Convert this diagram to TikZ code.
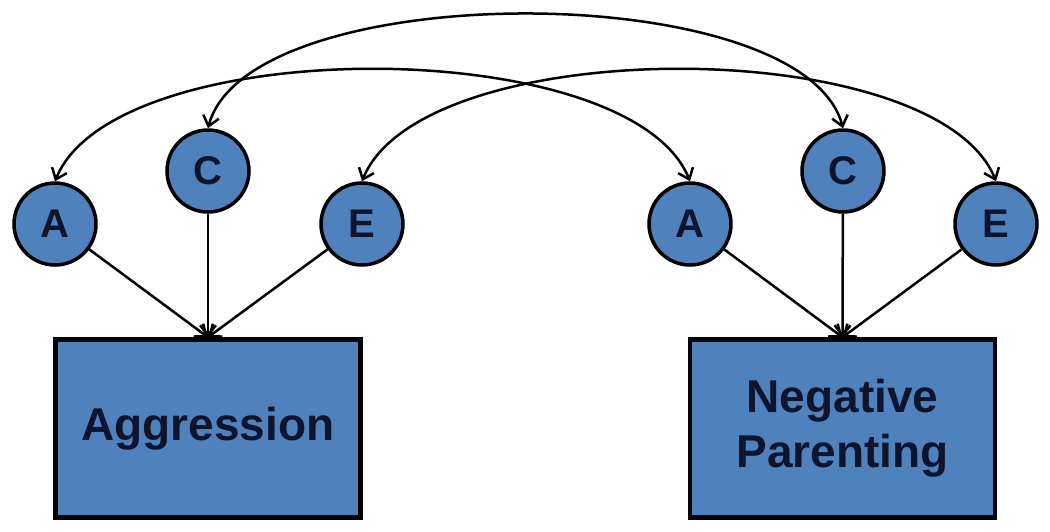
\documentclass[tikz,border=0pt]{standalone}
\usepackage{fontspec}
\setmainfont{Liberation Sans}
\usetikzlibrary{arrows.meta}
\definecolor{fillblue}{RGB}{79,129,189}
\definecolor{txt}{RGB}{15,20,45}
\begin{document}
\begin{tikzpicture}[x=1pt,y=-1pt,
  lat/.style={circle,draw=black,line width=3.5pt,fill=fillblue,minimum size=82pt,inner sep=0pt,
    font=\fontsize{40}{40}\selectfont\bfseries,text=txt},
  obs/.style={rectangle,draw=black,line width=4.5pt,fill=fillblue,minimum width=305pt,minimum height=178pt,
    align=center,font=\fontsize{46}{55}\selectfont\bfseries,text=txt},
  conn/.style={line width=2.5pt,-{Straight Barb[length=10pt,width=16pt]}},
  cov/.style={line width=2.5pt,{Straight Barb[length=10pt,width=16pt]}-{Straight Barb[length=10pt,width=16pt]}}]
\useasboundingbox (0,0) rectangle (1050,531);
% latent factors
\node[lat] (lA) at (55,224) {A};
\node[lat] (lC) at (208,171) {C};
\node[lat] (lE) at (362,224) {E};
\node[lat] (rA) at (690,224) {A};
\node[lat] (rC) at (843,171) {C};
\node[lat] (rE) at (996,224) {E};
% observed variables
\node[obs] (agg) at (208,428.5) {Aggression};
\node[obs] (neg) at (842.5,428.5) {Negative\\Parenting};
% paths
\draw[conn] (lA) -- (agg.north);
\draw[conn] (lC) -- (agg.north);
\draw[conn] (lE) -- (agg.north);
\draw[conn] (rA) -- (neg.north);
\draw[conn] (rC) -- (neg.north);
\draw[conn] (rE) -- (neg.north);
% covariances
\draw[cov] (lC.north) .. controls +(40,-152) and +(-40,-152) .. (rC.north);
\draw[cov] (lA.north) .. controls +(60,-149) and +(-60,-149) .. (rA.north);
\draw[cov] (lE.north) .. controls +(60,-149) and +(-60,-149) .. (rE.north);
\end{tikzpicture}
\end{document}
